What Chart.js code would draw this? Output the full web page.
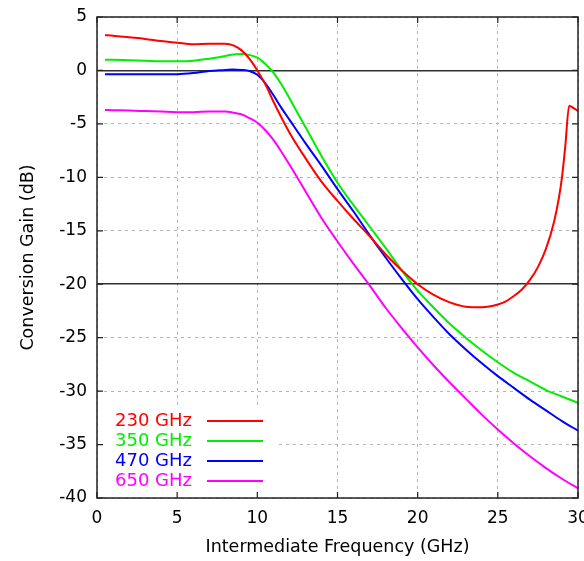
<!DOCTYPE html>
<html>
<head>
<meta charset="utf-8">
<script src="https://cdn.jsdelivr.net/npm/chart.js@4.4.1/dist/chart.umd.min.js"></script>
<style>
  html, body { margin: 0; padding: 0; background: #fff; overflow: hidden; }
</style>
</head>
<body>
<canvas id="gainChart" width="584" height="561"></canvas>
<script>
// conversion gain vs IF, four LO frequencies
var labels = ["230 GHz", "350 GHz", "470 GHz", "650 GHz"];
var colors = ["#ff0000", "#00ee00", "#0000ff", "#ff00ff"];

var freq230 = [0.5, 1, 2, 3, 4, 5, 6, 7, 7.5, 8, 8.5, 9, 9.5, 10, 10.5, 11, 12, 13, 14, 15, 16, 17, 18, 19, 20,
    21, 22, 23, 24, 25, 25.5, 26, 26.5, 27, 27.5, 28, 28.5, 28.8, 29, 29.2, 29.45, 29.7, 30];
var gain230 = [3.3, 3.25, 3.1, 2.95, 2.75, 2.6, 2.45, 2.5, 2.5, 2.5, 2.35, 1.9, 1.1, 0.0, -1.3, -2.9, -5.8, -8.2, -10.4, -12.2, -13.9, -15.5, -17.2, -18.7, -20.0,
    -21.0, -21.7, -22.1, -22.15, -21.9, -21.6, -21.1, -20.5, -19.6, -18.4, -16.7, -14.2, -12.0, -10.0, -7.2, -3.3, -3.5, -3.8];

// shared IF grid for the other three
var freq = [0.5, 1, 2, 3, 4, 5, 6, 7, 8, 8.5, 9, 9.5, 10, 10.5, 11, 11.5, 12, 13, 14, 15, 16, 17, 18, 19, 20,
    21, 22, 23, 24, 25, 26, 27, 28, 29, 30];
var gain350 = [1.0, 1.0, 0.95, 0.9, 0.85, 0.85, 0.9, 1.1, 1.35, 1.5, 1.55, 1.45, 1.2, 0.6, -0.2, -1.3, -2.6, -5.3, -8.0, -10.5, -12.6, -14.6, -16.6, -18.7, -20.6,
    -22.2, -23.7, -25.0, -26.2, -27.3, -28.3, -29.1, -29.9, -30.5, -31.1];
var gain470 = [-0.35, -0.35, -0.35, -0.35, -0.35, -0.35, -0.25, -0.05, 0.05, 0.1, 0.05, -0.05, -0.4, -1.2, -2.3, -3.5, -4.6, -6.8, -8.9, -11.1, -13.2, -15.4, -17.5, -19.5, -21.4,
    -23.1, -24.7, -26.1, -27.4, -28.6, -29.7, -30.8, -31.8, -32.8, -33.7];
var gain650 = [-3.7, -3.72, -3.75, -3.8, -3.85, -3.9, -3.9, -3.85, -3.85, -3.95, -4.1, -4.45, -4.9, -5.6, -6.5, -7.6, -8.8, -11.3, -13.8, -16.0, -18.1, -20.1, -22.2, -24.1, -25.9,
    -27.6, -29.2, -30.7, -32.2, -33.6, -34.9, -36.1, -37.2, -38.2, -39.1];

var xTicks = [0, 5, 10, 15, 20, 25, 30];
var yTicks = [-40, -35, -30, -25, -20, -15, -10, -5, 0, 5];

function pts(xs, ys) {
    return xs.map(function (v, i) { return { x: v, y: ys[i] }; });
}

var series = [pts(freq230, gain230), pts(freq, gain350), pts(freq, gain470), pts(freq, gain650)];

var tickFont = { family: "DejaVu Sans", size: 17 };
var titleFont = { family: "DejaVu Sans", size: 17.5 };

// gnuplot style: closed frame, inward ticks, key with text left of the sample line
var framePlugin = {
    id: "frame",
    afterDatasetsDraw: function (chart) {
        var ctx = chart.ctx, a = chart.chartArea, xs = chart.scales.x, ys = chart.scales.y;
        ctx.save();
        ctx.fillStyle = "#fff";
        ctx.fillRect(a.left + 3, 405, 176, a.bottom - 405 - 2);

        ctx.font = "18px 'DejaVu Sans'";
        ctx.textBaseline = "middle";
        ctx.textAlign = "left";
        chart.data.datasets.forEach(function (ds, i) {
            var yy = 421 + i * 20;
            ctx.fillStyle = ds.borderColor;
            ctx.fillText(ds.label, 115, yy);
            ctx.strokeStyle = ds.borderColor;
            ctx.lineWidth = 2;
            ctx.beginPath();
            ctx.moveTo(207, yy);
            ctx.lineTo(263, yy);
            ctx.stroke();
        });

        ctx.strokeStyle = "#222";
        ctx.lineWidth = 1.5;
        ctx.strokeRect(a.left, a.top, a.right - a.left, a.bottom - a.top);
        ctx.lineWidth = 1.2;
        ctx.beginPath();
        xs.ticks.forEach(function (t) {
            var p = xs.getPixelForValue(t.value);
            ctx.moveTo(p, a.bottom); ctx.lineTo(p, a.bottom - 6);
            ctx.moveTo(p, a.top); ctx.lineTo(p, a.top + 6);
        });
        ys.ticks.forEach(function (t) {
            var p = ys.getPixelForValue(t.value);
            ctx.moveTo(a.left, p); ctx.lineTo(a.left + 6, p);
            ctx.moveTo(a.right, p); ctx.lineTo(a.right - 6, p);
        });
        ctx.stroke();
        ctx.restore();
    }
};

var ctx = document.getElementById("gainChart").getContext("2d");
var gainChart = new Chart(ctx, {
    type: "line",
    data: {
        datasets: series.map(function (d, i) {
            return {
                label: labels[i],
                data: d,
                borderColor: colors[i],
                backgroundColor: colors[i],
                borderWidth: 2,
                pointRadius: 0,
                fill: false,
                cubicInterpolationMode: "monotone",
            };
        }),
    },
    options: {
        responsive: false,
        animation: false,
        layout: { padding: { top: 17, right: 6, left: 0, bottom: 0 } },
        plugins: { legend: { display: false }, tooltip: { enabled: false } },
        scales: {
            x: {
                type: "linear",
                min: 0,
                max: 30,
                afterBuildTicks: function (s) { s.ticks = xTicks.map(function (v) { return { value: v }; }); },
                ticks: { color: "#000", font: tickFont, padding: 10, maxRotation: 0, autoSkip: false },
                grid: { color: "#b4b4b4", lineWidth: 1, drawTicks: false },
                border: { display: false, dash: [3, 4] },
                title: { display: true, text: "Intermediate Frequency (GHz)", color: "#000", font: titleFont, padding: { top: 0, bottom: 3 } },
                afterFit: function (s) { s.paddingLeft = 0; s.paddingRight = 0; s.height = 63; },
            },
            y: {
                type: "linear",
                min: -40,
                max: 5,
                afterBuildTicks: function (s) { s.ticks = yTicks.map(function (v) { return { value: v }; }); },
                ticks: { color: "#000", font: tickFont, padding: 10 },
                grid: {
                    drawTicks: false,
                    color: function (c) { return c.tick && (c.tick.value === 0 || c.tick.value === -20) ? "#303030" : "#b4b4b4"; },
                    lineWidth: function (c) { return c.tick && (c.tick.value === 0 || c.tick.value === -20) ? 1.5 : 1; },
                },
                border: {
                    display: false,
                    dash: function (c) { return c.tick && (c.tick.value === 0 || c.tick.value === -20) ? [] : [3, 4]; },
                },
                title: { display: true, text: "Conversion Gain (dB)", color: "#000", font: titleFont, padding: { top: 17.5, bottom: 0 } },
                afterFit: function (s) { s.width = 97; s.paddingTop = 0; s.paddingBottom = 0; },
            },
        },
    },
    plugins: [framePlugin],
});
</script>
</body>
</html>
